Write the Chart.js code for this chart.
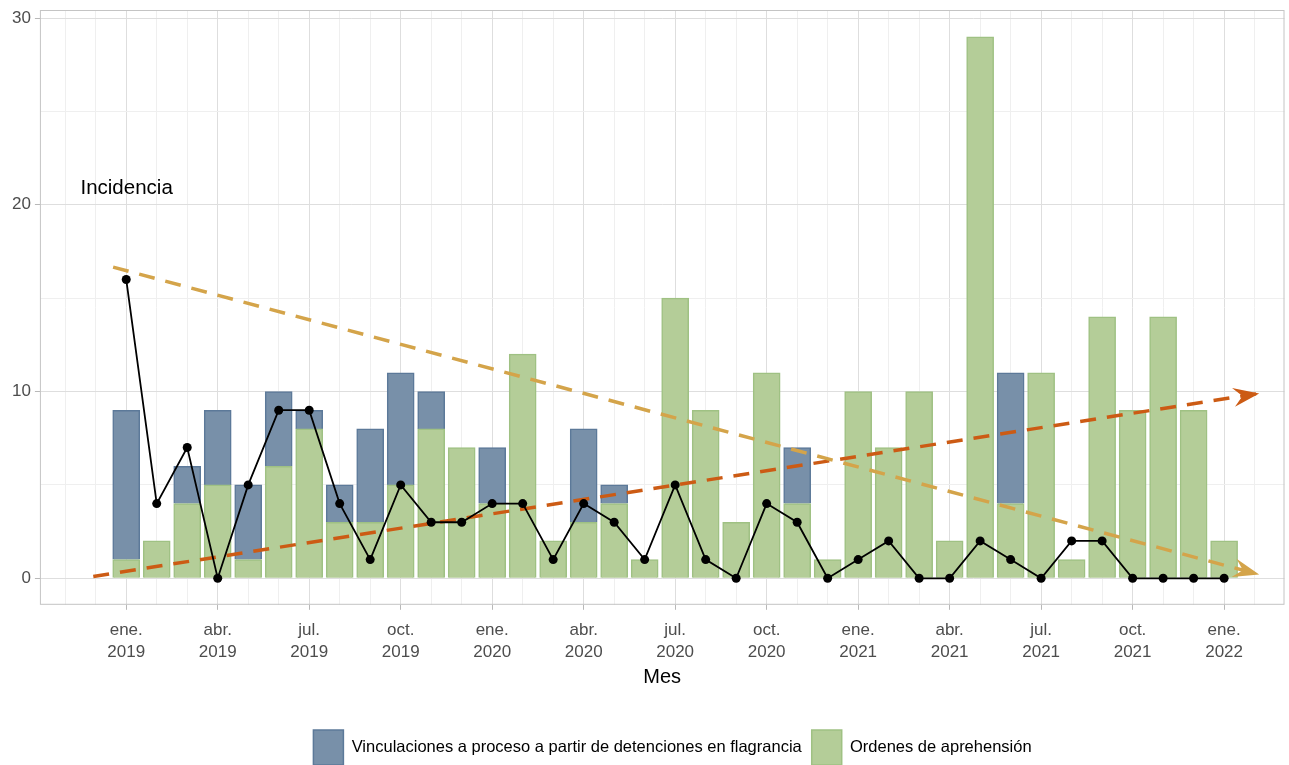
<!DOCTYPE html>
<html>
<head>
<meta charset="utf-8">
<script src="https://cdn.jsdelivr.net/npm/chart.js@4.4.1/dist/chart.umd.min.js"></script>
<style>
  html, body { margin: 0; padding: 0; background: #ffffff; }
  #wrap { width: 1289px; height: 765px; position: relative; }
</style>
</head>
<body>
<div id="wrap"><canvas id="incidenciaChart"></canvas></div>
<script>
// meses: ene. 2019 .. ene. 2022 (x = indice del mes)
const meses = [
  '2019-01','2019-02','2019-03','2019-04','2019-05','2019-06','2019-07','2019-08','2019-09','2019-10','2019-11','2019-12',
  '2020-01','2020-02','2020-03','2020-04','2020-05','2020-06','2020-07','2020-08','2020-09','2020-10','2020-11','2020-12',
  '2021-01','2021-02','2021-03','2021-04','2021-05','2021-06','2021-07','2021-08','2021-09','2021-10','2021-11','2021-12',
  '2022-01'
];
const ordenes = [1,2,4,5,1,6,8,3,3,5,8,7, 4,12,2,3,4,1,15,9,3,11,4,1, 10,7,10,2,29,4,11,1,14,9,14,9, 2];
const vinculaciones = [8,0,2,4,4,4,1,2,5,6,2,0, 3,0,0,5,1,0,0,0,0,0,3,0, 0,0,0,0,0,7,0,0,0,0,0,0, 0];
const incidencia = [16,4,7,0,5,9,9,4,1,5,3,3, 4,4,1,4,3,1,5,1,0,4,3,0, 1,2,0,0,2,1,0,2,2,0,0,0, 0];

const trimestreTicks = [0,3,6,9,12,15,18,21,24,27,30,33,36];
const trimestreLabels = [
  ['ene.','2019'],['abr.','2019'],['jul.','2019'],['oct.','2019'],
  ['ene.','2020'],['abr.','2020'],['jul.','2020'],['oct.','2020'],
  ['ene.','2021'],['abr.','2021'],['jul.','2021'],['oct.','2021'],
  ['ene.','2022']
];
const yTicks = [0,5,10,15,20,25,30];
const yLabels = ['0','','10','','20','','30'];

// lineas de tendencia (inicio, punta de flecha)
const tendBajaX = [-0.43, 37.15];
const tendBajaY = [16.66, 0.2];
const tendAltaX = [-1.08, 37.15];
const tendAltaY = [0.1, 9.9];

const FONT = '"Liberation Sans", Arial, sans-serif';
Chart.defaults.font.family = FONT;

const toXY = (arr) => arr.map((v, i) => ({x: i, y: v}));
const pares = (xs, ys) => xs.map((x, i) => ({x: x, y: ys[i]}));

const extras = {
  id: 'extras',
  afterLayout(chart) {
    // la leyenda va un poco a la derecha, como en el original
    chart.legend.left += 25;
    chart.legend.right += 25;
  },
  beforeDatasetsDraw(chart) {
    const {ctx, chartArea} = chart;
    ctx.save();
    ctx.strokeStyle = '#c4c4c4';
    ctx.lineWidth = 1;
    ctx.strokeRect(chartArea.left + 0.5, chartArea.top + 0.5,
      chartArea.right - chartArea.left - 1, chartArea.bottom - chartArea.top - 1);
    ctx.restore();
  },
  afterDatasetsDraw(chart) {
    const {ctx, scales} = chart;
    const xs = scales.x, ys = scales.y;
    ctx.save();
    // flechas
    [[tendBajaX, tendBajaY, '#d4a44a'], [tendAltaX, tendAltaY, '#cc5b14']].forEach(([tx, ty, col]) => {
      const x0 = xs.getPixelForValue(tx[0]), y0 = ys.getPixelForValue(ty[0]);
      const x1 = xs.getPixelForValue(tx[1]), y1 = ys.getPixelForValue(ty[1]);
      const a = Math.atan2(y1 - y0, x1 - x0);
      const L = 26, W = 9.5;
      const c = Math.cos(a), s = Math.sin(a);
      ctx.beginPath();
      ctx.moveTo(x1, y1);
      ctx.lineTo(x1 - L * c - W * s, y1 - L * s + W * c);
      ctx.lineTo(x1 - 0.65 * L * c, y1 - 0.65 * L * s);
      ctx.lineTo(x1 - L * c + W * s, y1 - L * s - W * c);
      ctx.closePath();
      ctx.fillStyle = col;
      ctx.fill();
    });
    // etiqueta
    ctx.fillStyle = '#000000';
    ctx.font = '20.5px ' + FONT;
    ctx.textAlign = 'left';
    ctx.textBaseline = 'middle';
    ctx.fillText('Incidencia', xs.getPixelForValue(-1.5), ys.getPixelForValue(20.9));
    ctx.restore();
  }
};

const ctx = document.getElementById('incidenciaChart').getContext('2d');
const chart = new Chart(ctx, {
  type: 'bar',
  data: {
    datasets: [
      {
        type: 'line',
        label: 'Incidencia',
        data: toXY(incidencia),
        borderColor: '#000000',
        backgroundColor: '#000000',
        borderWidth: 1.8,
        pointRadius: 4.5,
        pointBackgroundColor: '#000000',
        pointBorderWidth: 0,
        tension: 0,
        stack: 'inc',
        order: 0
      },
      {
        type: 'line',
        label: 'tendBaja',
        data: pares(tendBajaX, tendBajaY),
        borderColor: '#d4a44a',
        borderWidth: 3.5,
        borderDash: [16, 11],
        pointRadius: 0,
        stack: 't1',
        order: 0
      },
      {
        type: 'line',
        label: 'tendAlta',
        data: pares(tendAltaX, tendAltaY),
        borderColor: '#cc5b14',
        borderWidth: 3.5,
        borderDash: [16, 11],
        pointRadius: 0,
        stack: 't2',
        order: 0
      },
      {
        label: 'Ordenes de aprehensión',
        data: toXY(ordenes),
        backgroundColor: '#b4cd98',
        borderColor: '#9fc183',
        borderWidth: 1.5,
        barThickness: 27,
        stack: 'bars',
        order: 1
      },
      {
        label: 'Vinculaciones a proceso a partir de detenciones en flagrancia',
        data: toXY(vinculaciones),
        backgroundColor: '#7890a9',
        borderColor: '#5c7999',
        borderWidth: 1.5,
        barThickness: 27,
        stack: 'bars',
        order: 2
      }
    ]
  },
  options: {
    responsive: true,
    maintainAspectRatio: false,
    animation: false,
    layout: { padding: { left: 8, right: 2, top: 0, bottom: -10 } },
    plugins: {
      tooltip: { enabled: false },
      legend: {
        position: 'bottom',
        labels: {
          boxWidth: 30,
          boxHeight: 35,
          padding: 10,
          color: '#000000',
          font: { size: 16.5 },
          filter: (item) => item.datasetIndex >= 3,
          sort: (a, b) => b.datasetIndex - a.datasetIndex
        }
      }
    },
    scales: {
      x: {
        type: 'linear',
        stacked: true,
        offset: false,
        min: -2.83,
        max: 37.98,
        afterBuildTicks: (scale) => {
          const t = [];
          for (let m = -2; m <= 37; m++) t.push({value: m});
          scale.ticks = t;
        },
        afterFit: (scale) => {
          scale.paddingRight = 0;
          scale.paddingLeft = 0;
        },
        ticks: {
          autoSkip: false,
          maxRotation: 0,
          padding: 9,
          color: '#4d4d4d',
          font: { size: 17, lineHeight: 1.3 },
          callback: (v) => {
            const k = trimestreTicks.indexOf(v);
            return k >= 0 ? trimestreLabels[k] : '';
          }
        },
        grid: {
          offset: false,
          color: (c) => (c.tick && c.tick.value % 3 === 0) ? '#dedede' : '#efefef',
          tickColor: (c) => (c.tick && trimestreTicks.includes(c.tick.value)) ? '#b8b8b8' : 'rgba(0,0,0,0)',
          tickLength: 5,
          lineWidth: 1
        },
        border: { display: false },
        title: {
          display: true,
          text: 'Mes',
          color: '#000000',
          font: { size: 20, lineHeight: 0.5 },
          padding: { top: 0, bottom: 38 }
        }
      },
      y: {
        stacked: true,
        min: -1.42,
        max: 30.43,
        afterBuildTicks: (scale) => {
          scale.ticks = yTicks.map((v) => ({value: v}));
        },
        afterFit: (scale) => {
          scale.paddingTop = 10;
        },
        ticks: {
          padding: 4,
          color: '#4d4d4d',
          font: { size: 17 },
          callback: (v) => yLabels[yTicks.indexOf(v)]
        },
        grid: {
          color: (c) => (c.tick && c.tick.value % 10 === 0) ? '#dedede' : '#efefef',
          tickColor: (c) => (c.tick && c.tick.value % 10 === 0) ? '#b8b8b8' : 'rgba(0,0,0,0)',
          tickLength: 5,
          lineWidth: 1
        },
        border: { display: false }
      }
    }
  },
  plugins: [extras]
});
</script>
</body>
</html>
